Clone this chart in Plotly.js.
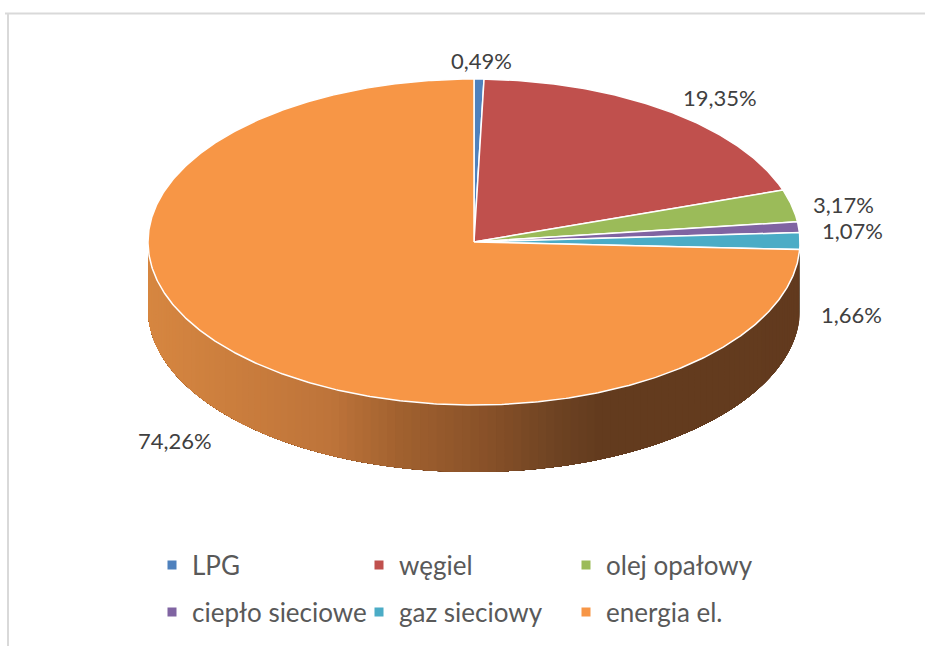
<!DOCTYPE html>
<html><head><meta charset="utf-8">
<script src="https://cdn.plot.ly/plotly-3.0.1.min.js"></script>
<style>html,body{margin:0;padding:0;background:#fff}#chart{width:925px;height:646px}</style>
</head><body><div id="chart"></div>
<script>
// ---- data ----
const categories = ['LPG', 'węgiel', 'olej opałowy', 'ciepło sieciowe', 'gaz sieciowy', 'energia el.'];
const shares = [0.49, 19.35, 3.17, 1.07, 1.66, 74.26];
const colors = ['#4F81BD', '#C0504D', '#9BBB59', '#8064A2', '#4BACC6', '#F79646'];
const labelText = shares.map(v => v.toFixed(2).replace('.', ',') + '%');

// ---- geometry / style (pixel space) ----
const CX = 474, CY = 242, RX = 326, RY = 163, DEPTH = 67;
const labelPos = [[481, 60], [720, 97], [843, 204], [852, 230], [851, 314], [175, 440]];
const sideStops = [[148, [214, 134, 64]], [330, [190, 116, 58]], [400, [161, 97, 47]], [480, [138, 82, 41]],
                   [560, [109, 66, 34]], [600, [99, 59, 30]], [925, [98, 58, 30]]];
const sideOther = {4: '#2F7385'};

function pt(t) { return [CX + RX * Math.sin(t), CY - RY * Math.cos(t)]; }
function sideColor(x) {
  for (let i = 0; i < sideStops.length - 1; i++) {
    const [x0, c0] = sideStops[i], [x1, c1] = sideStops[i + 1];
    if (x <= x1) {
      const f = Math.max(0, Math.min(1, (x - x0) / (x1 - x0)));
      const c = c0.map((v, k) => Math.round(v + (c1[k] - v) * f));
      return 'rgb(' + c.join(',') + ')';
    }
  }
  return 'rgb(98,58,30)';
}

const total = shares.reduce((a, b) => a + b, 0);
const starts = [], ends = [];
let cum = 0;
shares.forEach(v => { starts.push(2 * Math.PI * cum / total); cum += v; ends.push(2 * Math.PI * cum / total); });

const traces = [];
// side wall (front half only); each strip spans to the end of the visible arc so seams stay hidden
shares.forEach((v, i) => {
  const a = Math.max(starts[i], Math.PI / 2), b = Math.min(ends[i], 3 * Math.PI / 2);
  if (b <= a) return;
  const n = Math.max(1, Math.ceil((b - a) / (Math.PI / 120)));
  for (let s = 0; s < n; s++) {
    const t1 = a + (b - a) * s / n, t2 = a + (b - a) * (s + 1) / n;
    const xs = [], ys = [];
    const m = Math.max(2, Math.ceil((b - t1) / (Math.PI / 180)));
    for (let k = 0; k <= m; k++) { const p = pt(t1 + (b - t1) * k / m); xs.push(p[0]); ys.push(p[1]); }
    for (let k = m; k >= 0; k--) { const p = pt(t1 + (b - t1) * k / m); xs.push(p[0]); ys.push(p[1] + DEPTH); }
    const col = i === 5 ? sideColor((pt(t1)[0] + pt(t2)[0]) / 2) : (sideOther[i] || colors[i]);
    traces.push({type: 'scatter', x: xs, y: ys, mode: 'none', fill: 'toself', fillcolor: col,
      hoverinfo: 'skip', showlegend: false});
  }
});
// top face slices
shares.forEach((v, i) => {
  const xs = [CX], ys = [CY];
  const n = Math.max(2, Math.ceil((ends[i] - starts[i]) / (Math.PI / 360)));
  for (let k = 0; k <= n; k++) { const p = pt(starts[i] + (ends[i] - starts[i]) * k / n); xs.push(p[0]); ys.push(p[1]); }
  xs.push(CX); ys.push(CY);
  traces.push({type: 'scatter', x: xs, y: ys, mode: 'lines', fill: 'toself', fillcolor: colors[i],
    line: {color: '#FFFFFF', width: 1.5}, name: categories[i], text: labelText[i], hoverinfo: 'name+text', showlegend: false});
});
// legend entries
categories.forEach((c, i) => {
  traces.push({type: 'scatter', x: [null], y: [null], mode: 'markers', name: c,
    marker: {symbol: 'square', size: 9, color: colors[i]}, legend: i < 3 ? 'legend' : 'legend2', showlegend: true});
});

const annotations = shares.map((v, i) => ({
  x: labelPos[i][0], y: labelPos[i][1], xref: 'x', yref: 'y', text: labelText[i], showarrow: false,
  xanchor: 'center', yanchor: 'middle', font: {family: 'Lato, sans-serif', size: 22, color: '#404040'}
}));

const legendBase = {orientation: 'h', xanchor: 'left', yanchor: 'middle', entrywidth: 162,
  font: {family: 'Lato, sans-serif', size: 26, color: '#595959'}, bgcolor: 'rgba(0,0,0,0)', itemclick: false, itemdoubleclick: false};

const layout = {
  width: 925, height: 646, margin: {l: 0, r: 0, t: 0, b: 0},
  paper_bgcolor: '#FFFFFF', plot_bgcolor: '#FFFFFF',
  xaxis: {range: [0, 925], visible: false, fixedrange: true},
  yaxis: {range: [646, 0], visible: false, fixedrange: true},
  showlegend: true,
  legend: Object.assign({}, legendBase, {x: 152 / 925, y: 1 - 565 / 646}),
  legend2: Object.assign({}, legendBase, {x: 152 / 925, y: 1 - 612 / 646}),
  annotations: annotations,
  shapes: [
    {type: 'line', xref: 'x', yref: 'y', x0: 5, x1: 925, y0: 13.5, y1: 13.5, line: {color: '#D9D9D9', width: 2}},
    {type: 'line', xref: 'x', yref: 'y', x0: 8, x1: 8, y0: 13.5, y1: 646, line: {color: '#D9D9D9', width: 2}}
  ]
};
Plotly.newPlot('chart', traces, layout, {displayModeBar: false, staticPlot: true});
</script></body></html>
